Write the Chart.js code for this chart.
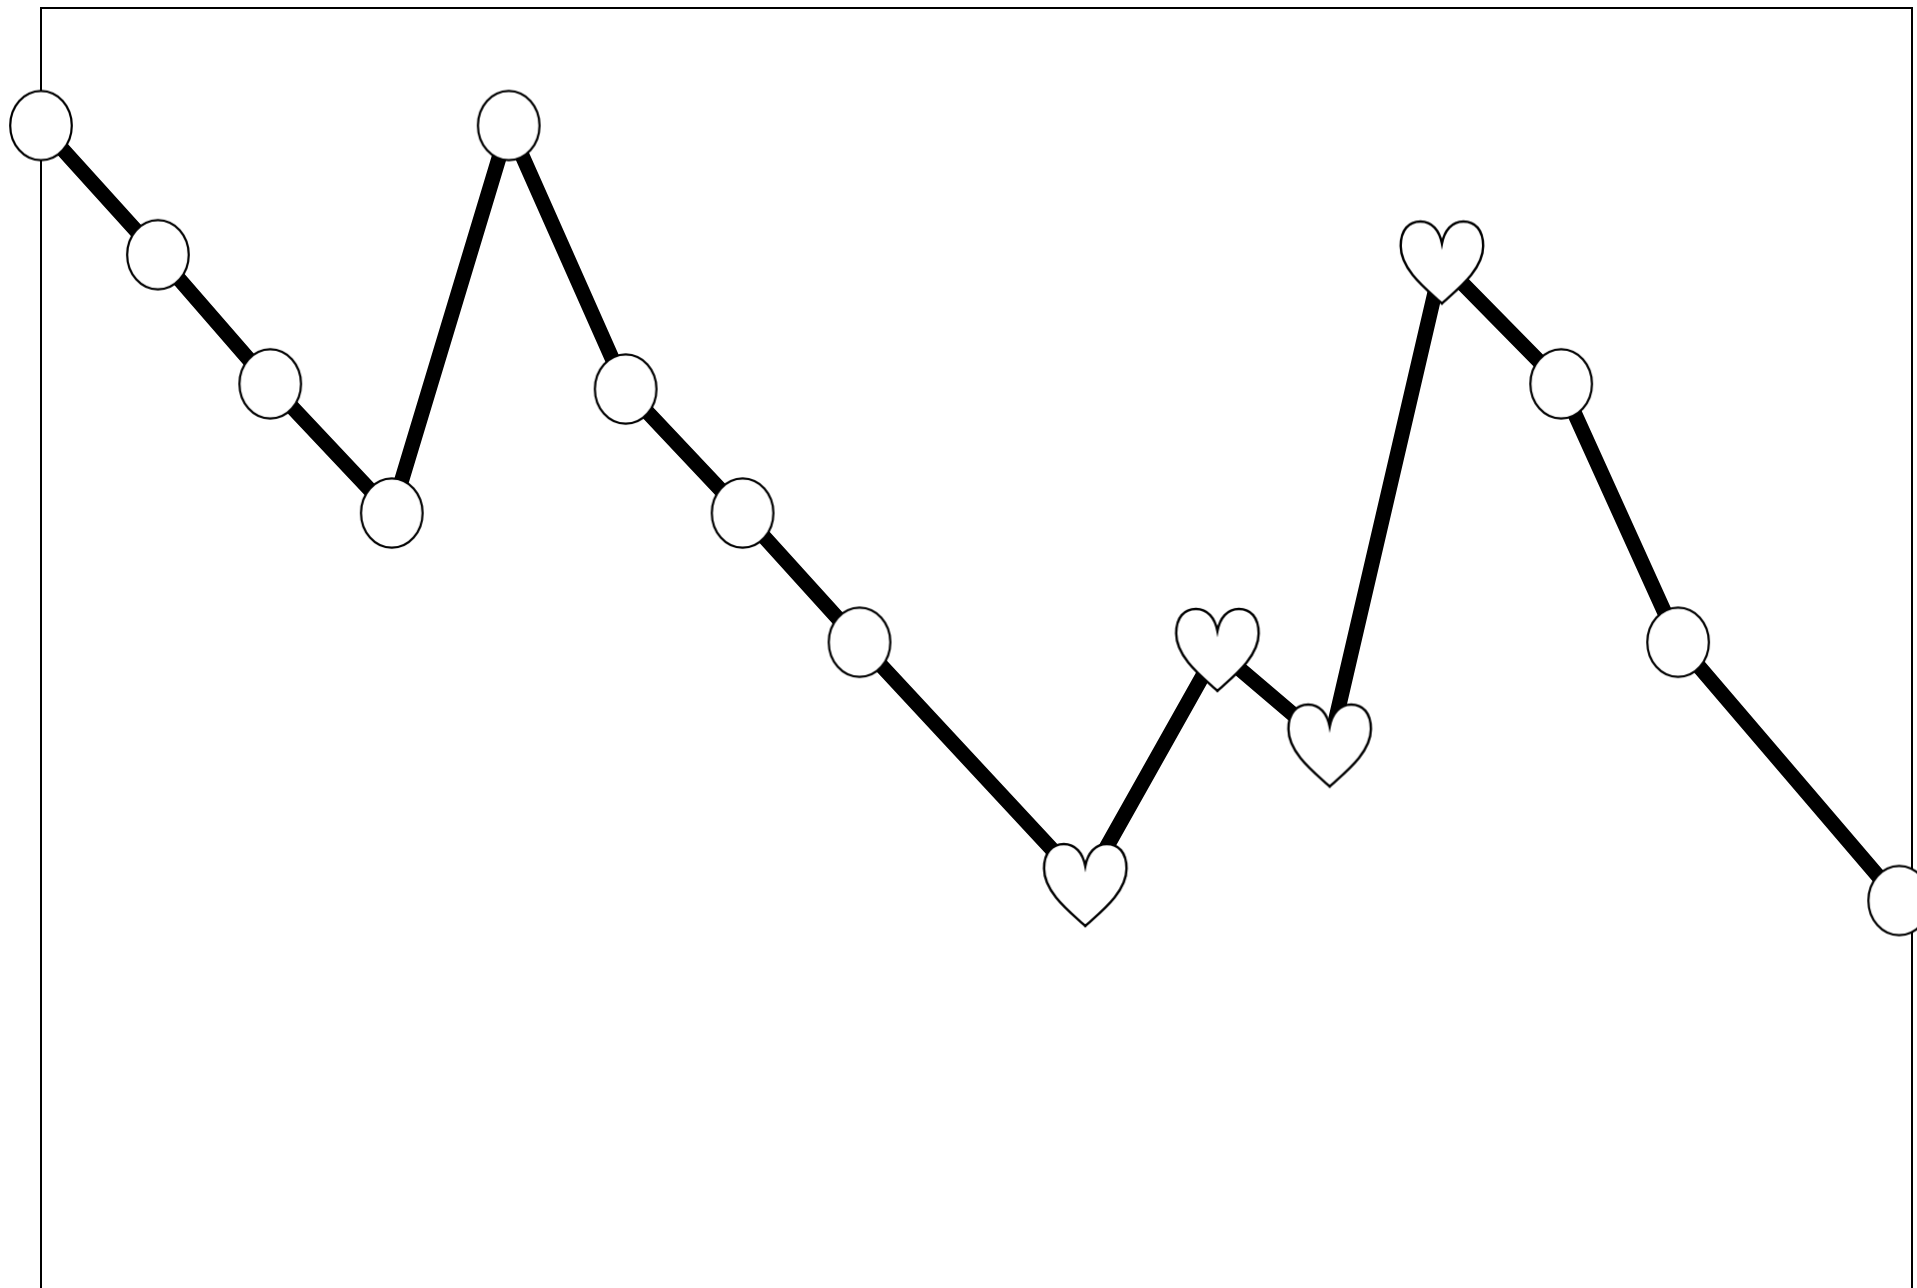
<!DOCTYPE html>
<html>
<head>
<meta charset="utf-8">
<style>
  html, body { margin: 0; padding: 0; background: #ffffff; overflow: hidden; }
  #c { display: block; }
</style>
<script src="https://cdn.jsdelivr.net/npm/chart.js@4/dist/chart.umd.min.js"></script>
</head>
<body>
<canvas id="c" width="1917" height="1288"></canvas>
<script>
// ---- data ----
const xPositions = [0, 1, 1.96, 3, 4, 5, 6, 7, 8.93, 10.06, 11.02, 11.98, 13, 14, 15.89];
const yValues    = [6, 5, 4, 3, 6, 3.96, 3, 2, 0.12, 1.94, 1.2, 4.94, 4, 2, 0];
const markerKinds = ['circle','circle','circle','circle','circle','circle','circle','circle',
                     'heart','heart','heart','heart','circle','circle','circle'];
const xRange = [0, 16];
const yRange = [-3, 6.91];

// ---- marker images ----
function makeEllipse() {
  const c = document.createElement('canvas');
  c.width = 68; c.height = 76;
  const g = c.getContext('2d');
  g.beginPath();
  g.ellipse(34, 38, 30.8, 34.6, 0, 0, Math.PI * 2);
  g.fillStyle = '#ffffff';
  g.fill();
  g.lineWidth = 2.2;
  g.strokeStyle = '#000000';
  g.stroke();
  return c;
}
function makeHeart() {
  const S = 90;
  const c = document.createElement('canvas');
  c.width = S; c.height = S;
  const g = c.getContext('2d');
  const w = 82.5, h = 82;
  const ox = (S - w) / 2, oy = (S - h) / 2;
  const P = (u, v) => [ox + u * w, oy + v * h];
  g.beginPath();
  g.moveTo(...P(0.5, 1.0));
  g.bezierCurveTo(...P(0.34, 0.85), ...P(0.0, 0.6), ...P(0.0, 0.3));
  g.bezierCurveTo(...P(0.0, 0.1), ...P(0.1, 0.0), ...P(0.24, 0.0));
  g.bezierCurveTo(...P(0.38, 0.0), ...P(0.47, 0.11), ...P(0.5, 0.27));
  g.bezierCurveTo(...P(0.53, 0.11), ...P(0.62, 0.0), ...P(0.76, 0.0));
  g.bezierCurveTo(...P(0.9, 0.0), ...P(1.0, 0.1), ...P(1.0, 0.3));
  g.bezierCurveTo(...P(1.0, 0.6), ...P(0.66, 0.85), ...P(0.5, 1.0));
  g.closePath();
  g.fillStyle = '#ffffff';
  g.fill();
  g.lineWidth = 2.4;
  g.lineJoin = 'miter';
  g.strokeStyle = '#000000';
  g.stroke();
  return c;
}
const ellipseImg = makeEllipse();
const heartImg = makeHeart();
const pointStyles = markerKinds.map(k => k === 'heart' ? heartImg : ellipseImg);

const points = xPositions.map((x, i) => ({ x: x, y: yValues[i] }));

const hiddenAxis = (position, range) => ({
  type: 'linear',
  position: position,
  min: range[0],
  max: range[1],
  display: true,
  grid: { display: false, drawTicks: false },
  ticks: { display: false },
  border: { display: true, color: '#000000', width: 2 }
});

new Chart(document.getElementById('c'), {
  type: 'line',
  data: {
    datasets: [{
      data: points,
      borderColor: '#000000',
      borderWidth: 15,
      tension: 0,
      fill: false,
      clip: false,
      pointStyle: pointStyles,
      pointRadius: 30,
      pointHoverRadius: 30,
      pointBackgroundColor: '#ffffff',
      pointBorderColor: '#000000'
    }]
  },
  options: {
    responsive: false,
    animation: false,
    events: [],
    layout: { autoPadding: false, padding: { left: 41, top: 8, right: 5, bottom: 0 } },
    plugins: { legend: { display: false }, tooltip: { enabled: false } },
    scales: {
      x: hiddenAxis('top', xRange),
      y: hiddenAxis('left', yRange),
      y2: hiddenAxis('right', yRange)
    }
  }
});
</script>
</body>
</html>
